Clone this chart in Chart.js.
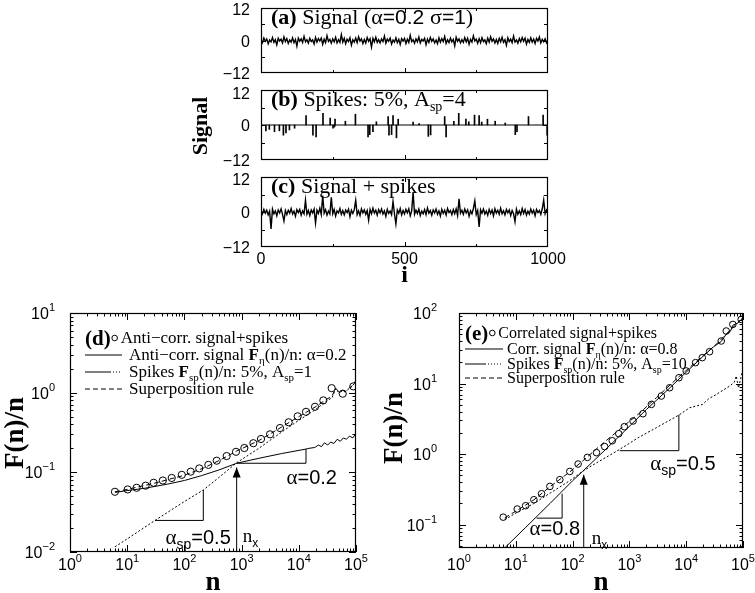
<!DOCTYPE html>
<html>
<head>
<meta charset="utf-8">
<script src="https://cdn.jsdelivr.net/npm/chart.js@4.4.1/dist/chart.umd.min.js"></script>
<style>
  html, body { margin: 0; padding: 0; background: #fff; }
  #wrap { position: relative; width: 755px; height: 593px; overflow: hidden; }
  canvas { position: absolute; }
</style>
</head>
<body>
<div id="wrap">
  <canvas id="pa" width="390" height="84" style="left:180px;top:0px"></canvas>
  <canvas id="pb" width="390" height="86" style="left:180px;top:84px"></canvas>
  <canvas id="pc" width="390" height="115" style="left:180px;top:170px"></canvas>
  <canvas id="pd" width="375" height="303" style="left:0px;top:290px"></canvas>
  <canvas id="pe" width="380" height="303" style="left:375px;top:290px"></canvas>
</div>
<script>
// ---- top panels: i = 0..1000, one value every STEP
const STEP = 5;
const signalA = [
  0.4,-0.8,0.9,-0.3,0.6,-1.2,0.2,-0.5,1.1,-0.7,0.3,-1.6,0.8,-0.2,0.5,-0.9,1.3,-0.4,0.7,-1.1,
  0.2,-0.6,1.0,-0.8,0.4,-2.1,0.9,-0.3,0.6,-0.7,1.5,-0.5,0.3,-1.0,0.8,-0.4,0.2,-1.3,1.1,-0.6,
  0.7,-0.2,0.9,-1.4,0.5,-0.8,1.8,-0.3,0.4,-1.0,0.6,-0.5,1.2,-0.9,0.3,-0.7,2.2,-0.6,0.8,-1.2,
  0.5,-0.4,1.0,-1.7,0.3,-0.6,0.9,-0.8,1.4,-0.2,0.6,-1.1,0.4,-0.9,1.1,-0.3,0.7,-2.4,0.8,-0.5,
  1.2,-0.7,0.3,-0.9,0.6,-0.4,1.6,-1.0,0.5,-0.3,0.9,-1.3,0.2,-0.6,1.0,-0.8,0.4,-1.5,0.7,-0.2,
  0.8,-1.1,0.5,-0.7,1.9,-0.4,0.3,-1.0,0.6,-0.5,1.3,-0.9,0.4,-0.2,0.8,-1.6,0.5,-0.7,1.1,-0.3,
  0.6,-0.9,0.2,-1.2,1.0,-0.6,0.7,-0.4,1.5,-1.1,0.3,-0.8,0.9,-0.5,0.4,-2.0,1.2,-0.3,0.6,-0.9,
  0.3,-0.7,1.1,-0.5,0.8,-1.4,0.4,-0.6,1.7,-0.2,0.5,-1.0,0.7,-0.8,1.0,-0.4,0.2,-1.2,0.9,-0.6,
  1.4,-0.3,0.6,-0.9,0.4,-1.1,0.8,-0.5,1.2,-0.7,0.3,-1.8,1.0,-0.4,0.5,-0.8,1.6,-0.6,0.2,-1.0,
  0.7,-0.5,1.1,-0.3,0.9,-1.3,0.4,-0.7,1.0,-0.6,0.5,-1.1,0.8,-0.2,1.3,-0.9,0.4,-0.5,0.6,-0.8,
  0.3
];
const spikeI = [17,29,47,64,78,87,99,117,157,181,192,216,241,251,256,258,294,329,373,379,390,402,443,446,455,460,472,478,530,551,583,591,640,645,672,689,714,724,744,760,769,789,816,851,886,892,932,983,997];
const spikeV = [-2.0,-1.5,-2.3,-2.0,-3.5,-2.7,-1.7,-1.1,3.2,-3.5,-4.1,4.0,2.4,-1.1,-0.7,2.0,1.3,3.7,-4.1,-3.3,-2.3,1.1,2.9,-3.5,-3.3,3.2,-4.4,2.0,1.0,0.5,-3.9,-3.4,2.9,-4.1,1.3,4.0,2.0,1.1,3.4,3.2,1.0,2.0,1.3,0.7,-3.3,-2.3,2.9,3.4,-3.5];
const signalC = [
  0.5,-0.7,0.9,-0.4,0.6,-1.0,0.3,-5.8,1.0,-0.6,0.4,-1.3,0.7,-0.3,1.1,-0.8,-3.1,0.5,-0.9,0.6,
  -0.4,1.2,-0.7,0.3,-1.5,0.8,-0.2,0.9,-1.1,0.4,-0.6,4.1,-0.8,0.5,-1.2,0.7,-0.3,1.0,-3.8,0.6,
  -0.5,1.3,-0.9,5.6,-0.4,0.8,-1.1,0.3,-0.7,5.0,-0.6,0.9,-1.4,0.4,-0.3,1.2,-0.8,0.5,-1.0,0.7,
  -0.2,1.0,-1.6,0.6,-0.5,0.8,4.0,-0.9,0.4,-1.2,1.1,-0.3,0.7,-0.8,0.5,-2.8,0.9,-0.6,1.3,-0.4,
  0.6,-1.1,0.8,-0.3,1.0,-0.7,0.4,-1.5,0.9,-0.5,0.3,-0.9,3.6,-0.6,-4.1,0.7,-0.4,1.2,-1.0,0.5,
  -0.7,0.9,-0.3,1.1,-1.3,0.4,6.8,-0.8,0.6,-0.5,1.0,-1.2,0.3,-0.6,0.8,-0.9,1.4,-0.4,0.5,-1.1,
  0.7,-0.3,1.0,-0.8,0.4,-1.4,0.9,-0.5,0.6,-1.0,1.2,-0.2,0.5,-0.9,0.8,-0.6,1.1,-1.2,4.5,-0.4,
  0.6,-0.8,1.0,-0.3,0.7,-1.5,0.4,-0.6,1.2,3.8,-0.9,0.5,-5.1,0.8,-0.4,1.0,-0.7,0.3,-1.1,0.9,
  -0.5,0.7,-1.3,1.1,-0.4,0.6,-0.8,1.3,-0.6,0.4,-1.0,0.9,-0.3,0.7,-1.2,0.5,-0.6,-3.3,1.0,-0.8,
  0.4,-0.9,1.2,-0.5,0.8,-1.1,0.3,-0.7,1.0,-0.4,0.6,-1.3,0.9,-0.2,0.5,-0.8,1.1,4.1,-0.6,0.7,
  -0.3
];
const topTicksY = [12, 0, -12];
const topTicksX = [0, 500, 1000];

// ---- panel (d): anti-correlated signal + spikes
const dCircN = [6.1,10.2,14.6,21,29,42,60,90,129,182,262,367,548,798,1117,1603,2183,3139,4690,6650,9550,13360,19190,26850,37550,58600,89700];
const dCircF = [0.057,0.061,0.064,0.068,0.074,0.079,0.085,0.093,0.102,0.112,0.124,0.140,0.160,0.181,0.202,0.232,0.262,0.300,0.360,0.425,0.505,0.575,0.665,0.80,1.14,0.97,1.2];
const dSigN = [6.1,10,20,50,100,200,400,820,2000,5000,13360,15000,19000,22000,25000,28000,32000,36000,41000,47000,53000,60000,68000,77000,88000,100000];
const dSigF = [0.056,0.059,0.063,0.071,0.079,0.091,0.107,0.130,0.150,0.172,0.196,0.20,0.205,0.22,0.21,0.235,0.22,0.24,0.23,0.26,0.245,0.27,0.26,0.285,0.27,0.31];
const dSpkN = [6.1,10,30.6,100,214,400,820,2000,5000,10000,20000,30000,38000,44000,50000,58000,66000,75000,86000,100000];
const dSpkF = [0.0116,0.0146,0.0249,0.043,0.060,0.086,0.132,0.20,0.32,0.45,0.62,0.78,0.86,1.12,1.0,1.05,1.02,1.12,1.2,1.4];
const dSupN = [6.1,10,30,100,214,400,820,2000,5000,10000,20000,30000,38000,44000,50000,58000,66000,75000,86000,100000];
const dSupF = [0.057,0.061,0.073,0.092,0.113,0.14,0.185,0.25,0.37,0.5,0.67,0.82,0.9,1.14,1.03,1.07,1.04,1.14,1.22,1.43];

// ---- panel (e): correlated signal + spikes
const eCircN = [6.0,10.6,14.9,20.8,28.4,39.8,59.6,89.3,125,182,263,367,500,650,815,1160,1730,2440,3650,5110,7450,10000,14600,19200,25800,41400,50700,66200,93000];
const eCircF = [0.128,0.167,0.186,0.226,0.275,0.349,0.435,0.569,0.724,0.90,1.05,1.28,1.55,1.95,2.45,2.95,3.74,5.07,6.66,8.73,12.1,15.1,19.8,23.3,28.3,40.1,55.6,68.9,81];
const eSigN = [6.4,15,40,100,150,300,827,2000,5000,10000,20000,30000,41400,50700,60000,66200,80000,93000,100000];
const eSigF = [0.047,0.092,0.2,0.42,0.57,0.97,2.13,4.3,8.5,14.5,24.5,33,39.5,50,55,67,72,80,88];
const eSpkN = [6.4,10.6,20.8,40,89,150,200,300,676,1500,2980,7450,11500,19400,25000,33800,45000,57900,70000,75900,83400,99100];
const eSpkF = [0.118,0.15,0.2,0.28,0.42,0.57,0.66,0.8,1.17,1.75,2.37,3.58,4.55,5.07,6.1,7.0,8.1,9.2,10.4,12.8,8.7,15.8];
const eSupN = [6.4,10.6,20.8,40,89,150,300,676,1500,2980,7450,11500,19400,33800,57900,75900,83400,99100];
const eSupF = [0.125,0.16,0.225,0.345,0.56,0.8,1.3,2.25,3.8,6.3,12.5,16.9,24.5,36,56,69,74,86];

// slope triangles and n_x arrows, in data units
const dTriSig = [[820,0.130],[13360,0.130],[13360,0.196]];
const dTriSpk = [[30.6,0.0249],[214,0.0249],[214,0.060]];
const dArrow = [[820,0.01],[820,0.115]];
const eTriSig = [[23.2,0.124],[65.4,0.124],[65.4,0.275]];
const eTriSpk = [[676,1.12],[7430,1.12],[7430,3.62]];
const eArrow = [[157,0.0468],[157,0.51]];

const SERIF = '"Liberation Serif","Times New Roman",serif';
const SANS = '"Liberation Sans",Arial,Helvetica,sans-serif';
const fnt = (size, fam, bold) => (bold ? 'bold ' : '') + size + 'px ' + fam;

// draw a run of text pieces [text, font, dy] starting, centred or ending at x
function rich(ctx, x, y, parts, align) {
  ctx.save();
  ctx.fillStyle = '#000';
  ctx.textAlign = 'left';
  ctx.textBaseline = 'alphabetic';
  let w = 0;
  parts.forEach(p => { ctx.font = p[1]; w += ctx.measureText(p[0]).width; });
  let cx = align === 'center' ? x - w / 2 : align === 'right' ? x - w : x;
  parts.forEach(p => {
    ctx.font = p[1];
    ctx.fillText(p[0], cx, y + (p[2] || 0));
    cx += ctx.measureText(p[0]).width;
  });
  ctx.restore();
  return w;
}

function vtext(ctx, cx, cy, text, font) {
  ctx.save();
  ctx.translate(cx, cy);
  ctx.rotate(-Math.PI / 2);
  ctx.font = font;
  ctx.fillStyle = '#000';
  ctx.textAlign = 'center';
  ctx.textBaseline = 'middle';
  ctx.fillText(text, 0, 0);
  ctx.restore();
}

function logTicks(lo, hi) {
  const out = [];
  for (let e = Math.floor(Math.log10(lo)); e <= Math.ceil(Math.log10(hi)); e++) {
    for (let m = 1; m <= 9; m++) {
      const v = m * Math.pow(10, e);
      if (v >= lo * 0.999 && v <= hi * 1.001) out.push([v, m === 1 ? 7 : 3.5]);
    }
  }
  return out;
}

// box around the plot with inward ticks on all four sides
function frame(xTicks, yTicks) {
  return {
    id: 'frame',
    afterDatasetsDraw(chart) {
      const { ctx, chartArea: a, scales: { x, y } } = chart;
      ctx.save();
      ctx.strokeStyle = '#000';
      ctx.lineWidth = 1.2;
      ctx.strokeRect(a.left + 0.5, a.top + 0.5, a.right - a.left - 1, a.bottom - a.top - 1);
      ctx.lineWidth = 1;
      ctx.beginPath();
      xTicks.forEach(([v, len]) => {
        const px = Math.round(x.getPixelForValue(v)) + 0.5;
        ctx.moveTo(px, a.bottom); ctx.lineTo(px, a.bottom - len);
        ctx.moveTo(px, a.top); ctx.lineTo(px, a.top + len);
      });
      yTicks.forEach(([v, len]) => {
        const py = Math.round(y.getPixelForValue(v)) + 0.5;
        ctx.moveTo(a.left, py); ctx.lineTo(a.left + len, py);
        ctx.moveTo(a.right, py); ctx.lineTo(a.right - len, py);
      });
      ctx.stroke();
      // arrow heads on datasets flagged as arrows
      chart.data.datasets.forEach((ds, i) => {
        if (!ds.arrow) return;
        const pts = chart.getDatasetMeta(i).data;
        const tip = pts[pts.length - 1];
        ctx.beginPath();
        ctx.moveTo(tip.x, tip.y);
        ctx.lineTo(tip.x - 4, tip.y + 10);
        ctx.lineTo(tip.x + 4, tip.y + 10);
        ctx.closePath();
        ctx.fillStyle = '#000';
        ctx.fill();
      });
      ctx.restore();
    }
  };
}

function baseOptions(pad, xs, ys) {
  return {
    responsive: false,
    animation: false,
    events: [],
    layout: { padding: pad },
    plugins: { legend: { display: false }, tooltip: { enabled: false } },
    scales: {
      x: Object.assign({ display: false }, xs),
      y: Object.assign({ display: false }, ys)
    }
  };
}

const series = vals => vals.map((v, k) => ({ x: k * STEP, y: v }));
const pairs = (ns, fs) => ns.map((n, k) => ({ x: n, y: fs[k] }));
const xy = arr => arr.map(p => ({ x: p[0], y: p[1] }));

const topX = { type: 'linear', min: 0, max: 1000, offset: false };
const topY = { type: 'linear', min: -12, max: 12 };
const topXTicks = [[250, 3], [500, 5], [750, 3]];
const topYTicks = [[-6, 4], [0, 5], [6, 4]];

function topLabels(chart, title) {
  const { ctx, chartArea: a, scales: { y } } = chart;
  topTicksY.forEach(v => {
    const py = Math.max(y.getPixelForValue(v) + 6, 15);
    rich(ctx, a.left - 11, py, [[v < 0 ? '−' + (-v) : String(v), fnt(16, SANS)]], 'right');
  });
  rich(ctx, a.left + 10, a.top + 16, title);
}

const line = (data, extra) => Object.assign({
  type: 'line', data, borderColor: '#000', borderWidth: 1, pointRadius: 0, tension: 0, fill: false
}, extra);

const T = 22;

// (a)
new Chart(document.getElementById('pa'), {
  type: 'line',
  data: { datasets: [line(series(signalA), { borderWidth: 1.4 })] },
  options: baseOptions({ left: 81, right: 22, top: 8, bottom: 11 }, topX, topY),
  plugins: [frame(topXTicks, topYTicks), {
    id: 'txtA',
    afterDraw(chart) {
      topLabels(chart, [['(a)', fnt(T, SERIF, true)], [' Signal (', fnt(T, SERIF)], ['α', fnt(T, SERIF)],
        ['=0.2 ', fnt(T - 1, SANS)], ['σ', fnt(T, SERIF)], ['=1', fnt(T - 1, SANS)], [')', fnt(T, SERIF)]]);
    }
  }]
});

// (b)
new Chart(document.getElementById('pb'), {
  type: 'bar',
  data: {
    datasets: [
      { type: 'bar', data: spikeI.map((i, k) => ({ x: i, y: spikeV[k] })), backgroundColor: '#000', barThickness: 1, grouped: false },
      line([{ x: 0, y: 0 }, { x: 1000, y: 0 }])
    ]
  },
  options: baseOptions({ left: 81, right: 22, top: 6, bottom: 10 }, topX, topY),
  plugins: [frame(topXTicks, topYTicks), {
    id: 'txtB',
    afterDraw(chart) {
      topLabels(chart, [['(b)', fnt(T, SERIF, true)], [' Spikes: 5%, A', fnt(T, SERIF)], ['sp', fnt(14, SERIF), 5], ['=4', fnt(T, SERIF)]]);
      vtext(chart.ctx, 21, 42, 'Signal', fnt(22, SERIF, true));
    }
  }]
});

// (c)
new Chart(document.getElementById('pc'), {
  type: 'line',
  data: { datasets: [line(series(signalC), { borderWidth: 1.4 })] },
  options: baseOptions({ left: 81, right: 22, top: 7, bottom: 38 }, topX, topY),
  plugins: [frame(topXTicks, topYTicks), {
    id: 'txtC',
    afterDraw(chart) {
      const { ctx, chartArea: a, scales: { x } } = chart;
      topLabels(chart, [['(c)', fnt(T, SERIF, true)], [' Signal + spikes', fnt(T, SERIF)]]);
      topTicksX.forEach(v => rich(ctx, x.getPixelForValue(v), a.bottom + 17, [[String(v), fnt(16, SANS)]], 'center'));
      rich(ctx, (a.left + a.right) / 2, a.bottom + 35, [['i', fnt(24, SERIF, true)]], 'center');
    }
  }]
});

// log-log panels
function expText(e) { return e < 0 ? '−' + (-e) : String(e); }

function logLabels(chart, xe, ye, yGap, xBase) {
  const { ctx, chartArea: a, scales: { x, y } } = chart;
  xe.forEach(e => rich(ctx, x.getPixelForValue(Math.pow(10, e)), a.bottom + xBase,
    [['10', fnt(16, SANS)], [expText(e), fnt(11, SANS), -8]], 'center'));
  ye.forEach(e => rich(ctx, a.left - yGap, y.getPixelForValue(Math.pow(10, e)) + 6,
    [['10', fnt(16, SANS)], [expText(e), fnt(11, SANS), -8]], 'right'));
}

function key(ctx, a, k) {
  const X = v => a.left + v, Y = v => a.top + v;
  const S = fnt(k.size, SERIF), B = fnt(k.size, SERIF, true), sub = fnt(k.size - 6, SERIF);
  const tw = rich(ctx, X(k.tagX), Y(k.rows[0]) + 7, [[k.tag, fnt(21, SERIF, true)]]);
  const sx = X(k.tagX) + tw + 4;
  ctx.save();
  ctx.strokeStyle = '#000';
  ctx.lineWidth = 1;
  ctx.beginPath();
  ctx.arc(sx, Y(k.rows[0]), 2.8, 0, Math.PI * 2);
  ctx.stroke();
  ctx.beginPath();
  ctx.moveTo(X(k.l0), Y(k.rows[1])); ctx.lineTo(X(k.l1), Y(k.rows[1]));
  ctx.moveTo(X(k.l0), Y(k.rows[2])); ctx.lineTo(X(k.dot), Y(k.rows[2]));
  ctx.stroke();
  ctx.setLineDash([1, 2]);
  ctx.beginPath();
  ctx.moveTo(X(k.dot), Y(k.rows[2])); ctx.lineTo(X(k.l1), Y(k.rows[2]));
  ctx.stroke();
  ctx.setLineDash([5, 3]);
  ctx.beginPath();
  ctx.moveTo(X(k.l0), Y(k.rows[3])); ctx.lineTo(X(k.l1), Y(k.rows[3]));
  ctx.stroke();
  ctx.restore();
  rich(ctx, sx + 6, Y(k.rows[0]) + 5, [[k.r1, S]]);
  rich(ctx, X(k.t1), Y(k.rows[1]) + 5, [[k.r2a, S], ['F', B], ['η', sub, 4], ['(n)/n: ', S], ['α', S], [k.r2b, S]]);
  rich(ctx, X(k.t1), Y(k.rows[2]) + 5, [['Spikes ', S], ['F', B], ['sp', sub, 4], ['(n)/n: 5%, A', S], ['sp', sub, 4], [k.r3b, S]]);
  rich(ctx, X(k.t1), Y(k.rows[3]) + 5, [['Superposition rule', S]]);
}

function note(ctx, x, y, v, f, parts) {
  rich(ctx, x.getPixelForValue(v), y.getPixelForValue(f) + 7, parts, 'center');
}
const alpha = (sub, val) => sub
  ? [['α', fnt(21, SERIF)], [sub, fnt(14, SANS), 5], [val, fnt(20, SANS)]]
  : [['α', fnt(21, SERIF)], [val, fnt(20, SANS)]];
const nx = [['n', fnt(19, SERIF)], ['x', fnt(12, SANS), 5]];

function logDatasets(c, sig, spk, sup, tri1, tri2, arrow, r) {
  return [
    line(sig),
    line(spk, { borderDash: [2, 2] }),
    line(sup, { borderDash: [5, 3] }),
    line(xy(tri1)),
    line(xy(tri2)),
    line(xy(arrow), { arrow: true }),
    line(c, { showLine: false, pointRadius: r, pointStyle: 'circle', pointBorderColor: '#000', pointBackgroundColor: 'rgba(0,0,0,0)', pointBorderWidth: 1 })
  ];
}

// (d)
new Chart(document.getElementById('pd'), {
  type: 'line',
  data: { datasets: logDatasets(pairs(dCircN, dCircF), pairs(dSigN, dSigF), pairs(dSpkN, dSpkF), pairs(dSupN, dSupF), dTriSig, dTriSpk, dArrow, 3.6) },
  options: baseOptions({ left: 70, right: 19, top: 23, bottom: 41 },
    { type: 'logarithmic', min: 1, max: 1e5 }, { type: 'logarithmic', min: 0.01, max: 10 }),
  plugins: [frame(logTicks(1, 1e5), logTicks(0.01, 10)), {
    id: 'txtD',
    afterDraw(chart) {
      const { ctx, chartArea: a, scales: { x, y } } = chart;
      logLabels(chart, [0, 1, 2, 3, 4, 5], [-2, -1, 0, 1], 15, 18);
      rich(ctx, (a.left + a.right) / 2, a.bottom + 38, [['n', fnt(27, SERIF, true)]], 'center');
      vtext(ctx, 16, 143, 'F(n)/n', fnt(27, SERIF, true));
      key(ctx, a, { tag: '(d)', size: 17, tagX: 15, l0: 15, l1: 52, dot: 40, t1: 59, rows: [25, 42, 59, 76],
        r1: 'Anti−corr. signal+spikes', r2a: 'Anti−corr. signal ', r2b: '=0.2', r3b: '=1' });
      note(ctx, x, y, 16800, 0.088, alpha(null, '=0.2'));
      note(ctx, x, y, 174, 0.0155, alpha('sp', '=0.5'));
      rich(ctx, x.getPixelForValue(820) + 6, y.getPixelForValue(0.016) + 6, nx);
    }
  }]
});

// (e)
new Chart(document.getElementById('pe'), {
  type: 'line',
  data: { datasets: logDatasets(pairs(eCircN, eCircF), pairs(eSigN, eSigF), pairs(eSpkN, eSpkF), pairs(eSupN, eSupF), eTriSig, eTriSpk, eArrow, 3.3) },
  options: baseOptions({ left: 84, right: 12, top: 23, bottom: 45 },
    { type: 'logarithmic', min: 1, max: 1e5 }, { type: 'logarithmic', min: 0.0468, max: 100 }),
  plugins: [frame(logTicks(1, 1e5), logTicks(0.0468, 100)), {
    id: 'txtE',
    afterDraw(chart) {
      const { ctx, chartArea: a, scales: { x, y } } = chart;
      logLabels(chart, [0, 1, 2, 3, 4, 5], [-1, 0, 1, 2], 22, 22);
      rich(ctx, (a.left + a.right) / 2, a.bottom + 42, [['n', fnt(27, SERIF, true)]], 'center');
      vtext(ctx, 20, 138, 'F(n)/n', fnt(27, SERIF, true));
      key(ctx, a, { tag: '(e)', size: 16, tagX: 6, l0: 6, l1: 44, dot: 26, t1: 48, rows: [20, 36, 51, 65],
        r1: 'Correlated signal+spikes', r2a: 'Corr. signal ', r2b: '=0.8', r3b: '=10' });
      note(ctx, x, y, 48.7, 0.0897, alpha(null, '=0.8'));
      note(ctx, x, y, 8750, 0.748, alpha('sp', '=0.5'));
      rich(ctx, x.getPixelForValue(157) + 8, y.getPixelForValue(0.065) + 6, nx);
    }
  }]
});
</script>
</body>
</html>
